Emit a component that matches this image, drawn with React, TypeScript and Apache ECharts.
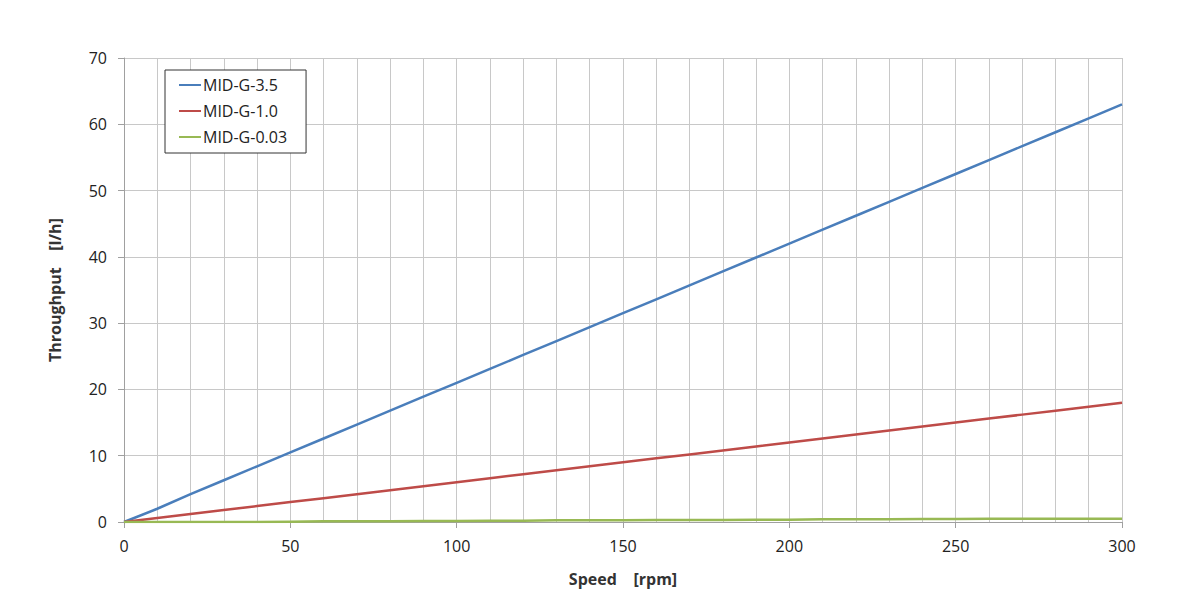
import React, { useEffect, useRef } from "react";
import * as echarts from "echarts";

const speed = [0,10,20,30,40,50,60,70,80,90,100,110,120,130,140,150,160,170,180,190,200,210,220,230,240,250,260,270,280,290,300];
const mid35 = [0,2.0,4.2,6.3,8.4,10.5,12.6,14.7,16.8,18.9,21.0,23.1,25.2,27.3,29.4,31.5,33.6,35.7,37.8,39.9,42.0,44.1,46.2,48.3,50.4,52.5,54.6,56.7,58.8,60.9,63.0];
const mid10 = [0,0.6,1.2,1.8,2.4,3.0,3.6,4.2,4.8,5.4,6.0,6.6,7.2,7.8,8.4,9.0,9.6,10.2,10.8,11.4,12.0,12.6,13.2,13.8,14.4,15.0,15.6,16.2,16.8,17.4,18.0];
const mid003 = [0,0,0,0,0,0.05,0.1,0.1,0.1,0.15,0.15,0.2,0.2,0.25,0.25,0.25,0.3,0.3,0.3,0.35,0.35,0.4,0.4,0.4,0.45,0.45,0.5,0.5,0.5,0.5,0.5];
const seriesNames = ["MID-G-3.5", "MID-G-1.0", "MID-G-0.03"];
const colors = ["#4A7EBB", "#BE4B48", "#98B954"];

export default function App() {
  const ref = useRef<HTMLDivElement>(null);
  useEffect(() => {
    const chart = echarts.init(ref.current!, undefined, { renderer: "svg" });
    const font = "'Open Sans', 'Noto Sans', sans-serif";
    const dataSets = [mid35, mid10, mid003];
    chart.setOption({
      animation: false,
      textStyle: { fontFamily: font },
      grid: { left: 116, right: 70, top: 50, bottom: 81 },
      legend: {
        orient: "vertical",
        left: 157,
        top: 62,
        padding: [7, 19, 8, 14],
        itemGap: 10,
        itemWidth: 22,
        itemHeight: 2,
        icon: "rect",
        borderColor: "#333",
        borderWidth: 1,
        backgroundColor: "#fff",
        textStyle: { fontSize: 16, color: "#222", fontFamily: font, padding: [0, 0, 0, -3] },
        data: seriesNames,
      },
      xAxis: {
        type: "value",
        min: 0,
        max: 300,
        interval: 50,
        name: "Speed    [rpm]",
        nameLocation: "middle",
        nameGap: 49,
        nameTextStyle: { fontSize: 16, fontWeight: "bold", color: "#333", fontFamily: font },
        axisLine: { show: true, lineStyle: { color: "#A0A0A0", width: 1 } },
        axisTick: { show: true, length: 6, lineStyle: { color: "#A0A0A0" } },
        axisLabel: { fontSize: 16, color: "#222", margin: 16, fontFamily: font },
        splitLine: { show: true, lineStyle: { color: "#C8C8C8", width: 1 } },
        minorTick: { show: false, splitNumber: 5 },
        minorSplitLine: { show: true, lineStyle: { color: "#C8C8C8", width: 1 } },
      },
      yAxis: {
        type: "value",
        min: 0,
        max: 70,
        interval: 10,
        name: "Throughput    [l/h]",
        nameLocation: "middle",
        nameGap: 61,
        nameRotate: 90,
        nameTextStyle: { fontSize: 16, fontWeight: "bold", color: "#333", fontFamily: font },
        axisLine: { show: true, lineStyle: { color: "#A0A0A0", width: 1 } },
        axisTick: { show: true, length: 6, lineStyle: { color: "#A0A0A0" } },
        axisLabel: { fontSize: 16, color: "#222", margin: 17, fontFamily: font },
        splitLine: { show: true, lineStyle: { color: "#C8C8C8", width: 1 } },
      },
      series: seriesNames.map((n, i) => ({
        name: n,
        type: "line",
        symbol: "none",
        data: speed.map((s, j) => [s, dataSets[i][j]]),
        lineStyle: { color: colors[i], width: 2.5 },
        itemStyle: { color: colors[i] },
      })),
    });
    return () => chart.dispose();
  }, []);
  return <div ref={ref} style={{ width: 1184, height: 595 }} />;
}
